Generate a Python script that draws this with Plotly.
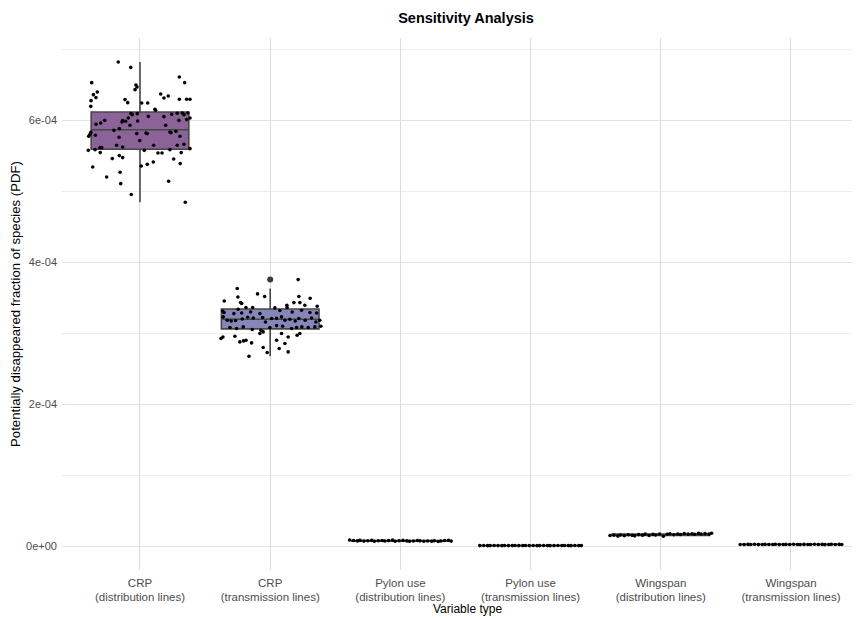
import numpy as np
import plotly.graph_objects as go

categories = ["CRP<br>(distribution lines)", "CRP<br>(transmission lines)",
              "Pylon use<br>(distribution lines)", "Pylon use<br>(transmission lines)",
              "Wingspan<br>(distribution lines)", "Wingspan<br>(transmission lines)"]

# ---- jittered observations (values in 1e-4 units, jitter offsets in category units)
crp_dist_v = [6.821, 6.746, 6.531, 6.610, 6.531, 6.399, 6.362, 6.320, 6.277, 6.197,
              6.497, 6.469, 6.432, 6.292, 6.249, 6.370, 6.314, 6.342, 6.296, 6.296,
              6.296, 6.244, 6.244, 6.155, 6.141, 6.094, 6.080, 6.094, 6.056, 6.052,
              6.085, 6.099, 6.103, 6.080, 6.103, 6.032, 6.010, 6.000, 6.000, 5.962,
              5.944, 5.996, 5.976, 5.986, 6.032, 5.930, 5.990, 5.930, 5.831, 5.803,
              5.775, 5.789, 5.859, 5.883, 5.813, 5.821, 5.813, 5.835, 5.827, 5.845,
              5.775, 5.761, 5.648, 5.624, 5.615, 5.615, 5.577, 5.587, 5.545, 5.577,
              5.648, 5.540, 5.540, 5.587, 5.648, 5.662, 5.601, 5.714, 5.461, 5.503,
              5.475, 5.342, 5.201, 5.268, 5.108, 5.356, 5.380, 5.413, 5.455, 5.390,
              5.545, 5.141, 4.954, 4.845]
crp_dist_dx = [-0.167, -0.071, -0.371, 0.302, 0.343, -0.328, -0.358, -0.338, -0.376, -0.378,
               -0.031, -0.023, -0.038, -0.115, -0.094, 0.159, 0.184, 0.217, 0.302, 0.358,
               0.384, 0.013, 0.059, 0.115, 0.120, -0.069, -0.059, -0.021, 0.064, 0.184,
               0.243, 0.286, 0.325, 0.338, 0.368, 0.384, 0.358, 0.299, -0.271, -0.302,
               -0.338, -0.133, -0.138, -0.110, -0.090, -0.077, -0.018, 0.197, -0.378, -0.384,
               -0.394, -0.343, -0.200, -0.159, -0.025, 0.046, 0.056, 0.230, 0.238, 0.276,
               0.307, -0.161, -0.179, -0.133, -0.294, -0.307, -0.397, -0.345, -0.305, 0.033,
               0.105, 0.138, 0.169, 0.230, 0.286, 0.338, 0.384, -0.002, -0.213, -0.159,
               -0.133, -0.363, -0.256, -0.153, -0.148, 0.010, 0.056, 0.102, 0.259, 0.309,
               0.317, 0.220, -0.067, 0.348]

crp_trans_v = [3.756, 3.630, 3.554, 3.511, 3.455, 3.432, 3.418, 3.517, 3.517, 3.493,
               3.432, 3.432, 3.394, 3.380, 3.394, 3.362, 3.362, 3.357, 3.314, 3.292,
               3.338, 3.277, 3.286, 3.300, 3.277, 3.320, 3.362, 3.300, 3.324, 3.292,
               3.286, 3.230, 3.183, 3.173, 3.179, 3.201, 3.225, 3.215, 3.221, 3.159,
               3.207, 3.211, 3.230, 3.183, 3.197, 3.173, 3.207, 3.183, 3.215, 3.159,
               3.183, 3.080, 3.089, 3.052, 3.042, 3.080, 3.108, 3.099, 3.066, 3.080,
               3.089, 3.080, 3.089, 3.099, 3.066, 2.948, 2.925, 2.958, 2.901, 2.878,
               2.892, 2.864, 3.019, 2.996, 2.996, 2.948, 2.901, 2.855, 2.799, 2.728,
               2.785, 2.676, 2.737, 2.996, 2.972]
crp_trans_dx = [0.215, -0.253, -0.097, -0.248, -0.353, -0.227, -0.219, -0.043, 0.220, 0.307,
                0.182, 0.228, 0.266, 0.361, 0.128, -0.186, -0.135, 0.036, -0.365, -0.355,
                -0.246, -0.279, -0.219, -0.150, -0.079, 0.074, 0.130, 0.169, 0.241, 0.305,
                0.356, -0.361, -0.330, -0.300, -0.266, -0.215, -0.173, -0.130, -0.058, -0.036,
                0.011, 0.049, 0.087, 0.113, 0.151, 0.192, 0.220, 0.269, 0.318, 0.351,
                0.381, -0.309, -0.207, -0.138, -0.071, -0.002, 0.049, 0.095, 0.164, 0.203,
                0.243, 0.292, 0.343, 0.389, -0.258, -0.363, -0.378, -0.271, -0.186, -0.233,
                -0.205, -0.143, -0.054, -0.079, 0.087, 0.138, 0.049, 0.113, -0.054, -0.023,
                0.069, -0.163, 0.138, 0.228, 0.207]

small_dx = [-0.39, -0.36, -0.33, -0.31, -0.28, -0.25, -0.22, -0.20, -0.17, -0.14,
            -0.12, -0.09, -0.06, -0.04, -0.01, 0.02, 0.05, 0.07, 0.10, 0.13,
            0.15, 0.18, 0.21, 0.24, 0.26, 0.29, 0.31, 0.34, 0.37, 0.39]
pylon_dist_v = [0.086, 0.079, 0.074, 0.082, 0.071, 0.077, 0.084, 0.069, 0.076, 0.080,
                0.073, 0.078, 0.085, 0.070, 0.077, 0.081, 0.074, 0.068, 0.072, 0.079,
                0.075, 0.069, 0.073, 0.070, 0.076, 0.066, 0.072, 0.080, 0.083, 0.071]
pylon_trans_v = [0.008, 0.009, 0.007, 0.008, 0.010, 0.008, 0.007, 0.009, 0.008, 0.008,
                 0.009, 0.007, 0.008, 0.010, 0.008, 0.009, 0.007, 0.008, 0.009, 0.008,
                 0.007, 0.008, 0.009, 0.008, 0.010, 0.008, 0.007, 0.009, 0.008, 0.008]
wing_dist_v = [0.150, 0.155, 0.142, 0.158, 0.148, 0.160, 0.152, 0.145, 0.163, 0.155,
               0.170, 0.150, 0.166, 0.158, 0.172, 0.140, 0.168, 0.175, 0.160, 0.172,
               0.165, 0.178, 0.170, 0.175, 0.168, 0.180, 0.172, 0.176, 0.170, 0.182]
wing_trans_v = [0.024, 0.022, 0.025, 0.023, 0.026, 0.022, 0.024, 0.025, 0.023, 0.024,
                0.026, 0.022, 0.024, 0.025, 0.023, 0.027, 0.024, 0.022, 0.025, 0.024,
                0.023, 0.026, 0.024, 0.025, 0.022, 0.024, 0.026, 0.023, 0.025, 0.024]

# ---- box statistics (1e-4 units): q1, median, q3, lower whisker, upper whisker
box_q1 = [5.592, 3.061, 0.071, 0.008, 0.152, 0.023]
box_med = [5.868, 3.197, 0.075, 0.008, 0.165, 0.024]
box_q3 = [6.117, 3.342, 0.080, 0.009, 0.172, 0.025]
box_lo = [4.845, 2.676, 0.066, 0.007, 0.140, 0.022]
box_hi = [6.821, 3.630, 0.086, 0.010, 0.182, 0.027]
outlier_cat = [2]
outlier_v = [3.756]

box_fill = ["#8b6398", "#8587b8", "#7fa9b9", "#7fc9b2", "#b0d990", "#f7ea84"]

SCALE = 1e-4
points = [(crp_dist_v, crp_dist_dx), (crp_trans_v, crp_trans_dx),
          (pylon_dist_v, small_dx), (pylon_trans_v, small_dx),
          (wing_dist_v, small_dx), (wing_trans_v, small_dx)]

FONT = "Liberation Sans, Arial, sans-serif"
fig = go.Figure()
for i in range(6):
    fig.add_trace(go.Box(
        x=[i + 1], q1=[box_q1[i] * SCALE], median=[box_med[i] * SCALE],
        q3=[box_q3[i] * SCALE], lowerfence=[box_lo[i] * SCALE],
        upperfence=[box_hi[i] * SCALE], width=0.75, whiskerwidth=0,
        fillcolor=box_fill[i], line=dict(color="#474747", width=1.6),
        boxpoints=False, showlegend=False, hoverinfo="skip"))

fig.add_trace(go.Scatter(
    x=outlier_cat, y=[v * SCALE for v in outlier_v], mode="markers",
    marker=dict(size=6, color="#3a3a3a"), showlegend=False))

for i, (vals, dxs) in enumerate(points):
    fig.add_trace(go.Scatter(
        x=[i + 1 + d for d in dxs], y=[v * SCALE for v in vals], mode="markers",
        marker=dict(size=3.6, color="black"), showlegend=False))

# The page body adds an 8px margin; the figure is sized/offset to compensate.
fig.update_layout(
    width=852, height=611, plot_bgcolor="white", paper_bgcolor="white",
    margin=dict(l=54, r=0, t=30, b=49),
    font=dict(family=FONT, size=11, color="#4d4d4d"),
    title=dict(text="<b>Sensitivity Analysis</b>", x=0.5376, xanchor="center",
               y=1 - 10 / 611, yanchor="middle",
               font=dict(family=FONT, size=14.5, color="black")),
    xaxis=dict(range=[0.401, 6.53], tickvals=[1, 2, 3, 4, 5, 6], ticktext=categories,
               showgrid=True, gridcolor="#dcdcdc", gridwidth=1.3, zeroline=False,
               ticks="", ticklabelstandoff=4, automargin=False,
               tickfont=dict(size=11.5, color="#4d4d4d")),
    yaxis=dict(range=[-0.336e-4, 7.16e-4], tickvals=[0, 2e-4, 4e-4, 6e-4],
               ticktext=["0e+00", "2e-04", "4e-04", "6e-04"],
               showgrid=True, gridcolor="#e3e3e3", gridwidth=1.3, zeroline=False,
               ticks="", ticklabelstandoff=4, tickfont=dict(size=11, color="#4d4d4d"),
               minor=dict(tickvals=[1e-4, 3e-4, 5e-4, 7e-4], showgrid=True,
                          gridcolor="#ececec", gridwidth=0.8),
               title=dict(text="Potentially disappeared fraction of species (PDF)",
                          standoff=8, font=dict(size=13.2, color="black"))),
    annotations=[dict(text="Variable type", xref="paper", yref="paper",
                      x=(467 - 62) / 798, y=0, yshift=-39, xanchor="center",
                      yanchor="middle", showarrow=False,
                      font=dict(family=FONT, size=12, color="black"))],
)

fig.write_html("out.html")
